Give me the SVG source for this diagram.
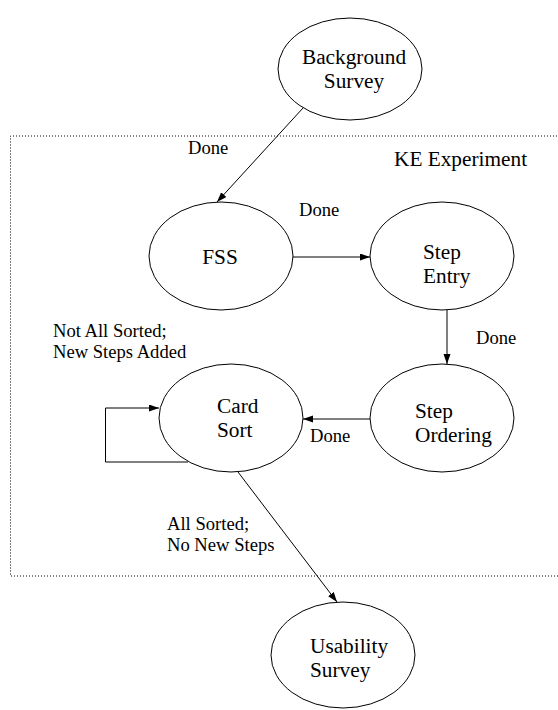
<svg xmlns="http://www.w3.org/2000/svg" width="558" height="710" viewBox="0 0 558 710">
  <style>
    text { font-family: "Liberation Serif", "DejaVu Serif", "Noto Serif", Tinos, FreeSerif, "Nimbus Roman", "Nimbus Roman No9 L", Times, "Times New Roman", serif; fill: #000000; }
    .node ellipse { fill: #ffffff; stroke: #000000; stroke-width: 1; }
    .node text { font-size: 21.3px; }
    .edge { fill: none; stroke: #000000; stroke-width: 1; }
    .label { font-size: 18.6px; }
    .title { font-size: 21.3px; }
    .frame { fill: none; stroke: #000000; stroke-width: 1; stroke-dasharray: 1 2; }
  </style>
  <defs>
    <marker id="arrow" markerUnits="userSpaceOnUse" markerWidth="11" markerHeight="8" refX="10" refY="3.5" orient="auto">
      <path d="M0,0 L10,3.5 L0,7 z" fill="#000000"/>
    </marker>
  </defs>

  <!-- KE Experiment frame (runs off the right edge) -->
  <g id="ke-experiment">
    <path class="frame" d="M560,136 H10.5 V576 H560"/>
    <text class="title" x="394" y="166">KE Experiment</text>
  </g>

  <!-- connectors -->
  <g id="connectors">
    <path class="edge" d="M303,108 L217,202" marker-end="url(#arrow)"/>
    <path class="edge" d="M293,257 L370,257" marker-end="url(#arrow)"/>
    <path class="edge" d="M447,310 L447,364" marker-end="url(#arrow)"/>
    <path class="edge" d="M370,419 L303,419" marker-end="url(#arrow)"/>
    <path class="edge" d="M188,462 H105.5 V408 H159" marker-end="url(#arrow)"/>
    <path class="edge" d="M238,472 L337,602" marker-end="url(#arrow)"/>
    <text class="label" x="188" y="154">Done</text>
    <text class="label" x="299" y="216">Done</text>
    <text class="label" x="476" y="344">Done</text>
    <text class="label" x="310" y="442">Done</text>
    <text class="label" x="53" y="337">Not All Sorted;</text>
    <text class="label" x="53" y="358">New Steps Added</text>
    <text class="label" x="167" y="530">All Sorted;</text>
    <text class="label" x="167" y="551">No New Steps</text>
  </g>

  <g id="background-survey" class="node">
    <ellipse cx="350" cy="69" rx="72" ry="51"/>
    <text x="354" y="64" text-anchor="middle">Background</text>
    <text x="354" y="88" text-anchor="middle">Survey</text>
  </g>

  <g id="fss" class="node">
    <ellipse cx="221" cy="256" rx="72" ry="54"/>
    <text x="220" y="264" text-anchor="middle">FSS</text>
  </g>

  <g id="step-entry" class="node">
    <ellipse cx="442" cy="256" rx="72" ry="54"/>
    <text x="423" y="259">Step</text>
    <text x="423" y="283">Entry</text>
  </g>

  <g id="step-ordering" class="node">
    <ellipse cx="442" cy="418" rx="72" ry="54"/>
    <text x="415" y="418">Step</text>
    <text x="415" y="442">Ordering</text>
  </g>

  <g id="card-sort" class="node">
    <ellipse cx="231" cy="418" rx="72" ry="54"/>
    <text x="217" y="413">Card</text>
    <text x="217" y="437">Sort</text>
  </g>

  <g id="usability-survey" class="node">
    <ellipse cx="343" cy="655" rx="72" ry="53"/>
    <text x="310" y="653">Usability</text>
    <text x="310" y="677">Survey</text>
  </g>
</svg>
